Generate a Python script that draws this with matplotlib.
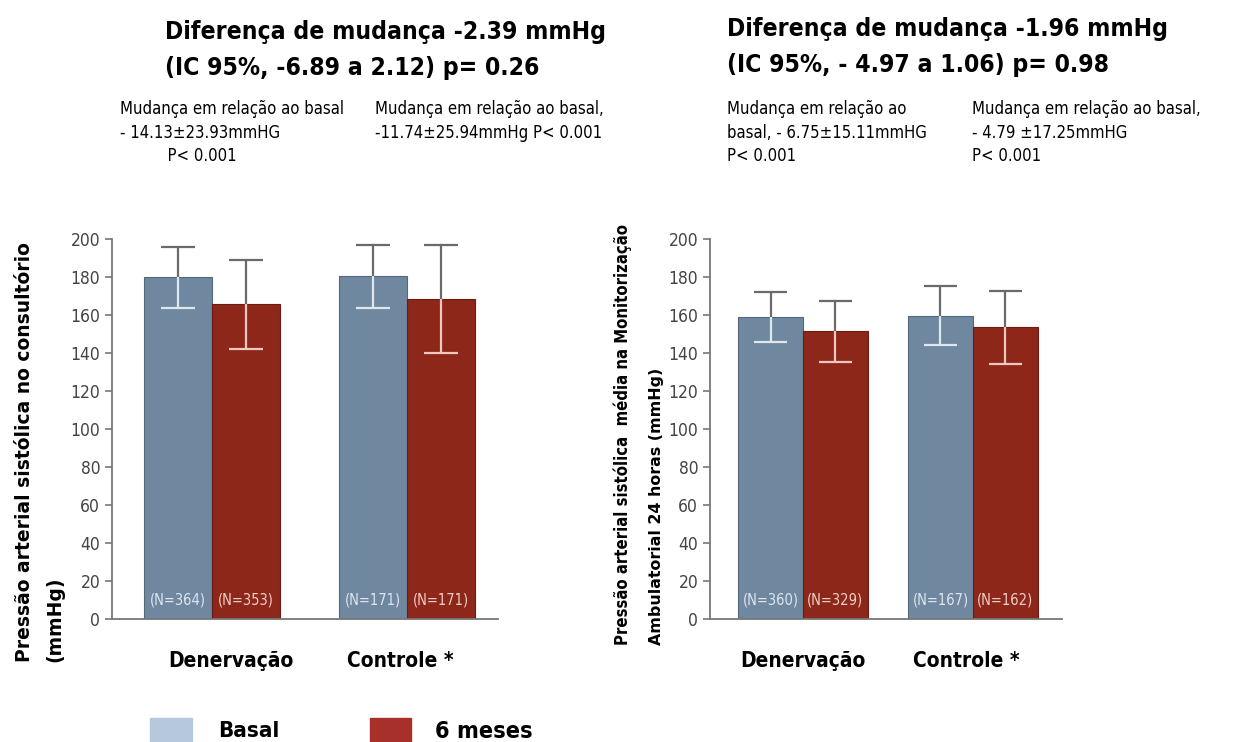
import matplotlib
matplotlib.use("Agg")
import matplotlib.pyplot as plt
from matplotlib.patches import Rectangle

groups = ["Denervação", "Controle *"]

# office systolic pressure (mmHg)
office_basal = [180.0, 180.5]
office_basal_hi = [195.8, 197.0]
office_basal_lo = [163.7, 163.7]
office_6m = [165.8, 168.4]
office_6m_hi = [189.0, 197.0]
office_6m_lo = [142.0, 140.0]
office_n_basal = ["(N=364)", "(N=171)"]
office_n_6m = ["(N=353)", "(N=171)"]

# 24h ambulatory systolic pressure (mmHg)
ambul_basal = [159.0, 159.7]
ambul_basal_hi = [172.0, 175.0]
ambul_basal_lo = [146.0, 144.0]
ambul_6m = [151.6, 153.7]
ambul_6m_hi = [167.4, 172.6]
ambul_6m_lo = [135.3, 134.0]
ambul_n_basal = ["(N=360)", "(N=167)"]
ambul_n_6m = ["(N=329)", "(N=162)"]

BLUE = "#6f879f"
RED = "#8c2719"
NARROW = ["Liberation Sans Narrow", "DejaVu Sans"]
COND = dict(family=NARROW, stretch="condensed")

fig = plt.figure(figsize=(12.33, 7.42), dpi=100)
W, H = 1233, 742


def px_axes(x0, x1, y_top, y_bot):
    return fig.add_axes([x0 / W, 1 - y_bot / H, (x1 - x0) / W, (y_bot - y_top) / H])


def whisker(ax, xs, lo, hi, half, color):
    ax.vlines(xs, lo, hi, color=color, lw=1.6, zorder=3)
    ax.hlines(hi, [x - half for x in xs], [x + half for x in xs], color=color, lw=1.6, zorder=3)


def draw_panel(ax, basal, b_hi, b_lo, six, s_hi, s_lo, n_b, n_s, width, xlim, label_x):
    xs = list(range(len(groups)))
    xb = [x - width / 2 for x in xs]
    xr = [x + width / 2 for x in xs]
    ax.bar(xb, basal, width, color=BLUE, edgecolor="#55687a", linewidth=0.8, zorder=2)
    ax.bar(xr, six, width, color=RED, edgecolor="#6e1c12", linewidth=0.8, zorder=2)
    half = width * 0.25
    # grey whisker above each bar, light whisker inside it
    whisker(ax, xb, basal, b_hi, half, "#6a6a6a")
    whisker(ax, xr, six, s_hi, half, "#6a6a6a")
    ax.vlines(xb, b_lo, basal, color="#dfe6ee", lw=1.6, zorder=3)
    ax.hlines(b_lo, [x - half for x in xb], [x + half for x in xb], color="#dfe6ee", lw=1.6, zorder=3)
    ax.vlines(xr, s_lo, six, color="#f0c8c0", lw=1.6, zorder=3)
    ax.hlines(s_lo, [x - half for x in xr], [x + half for x in xr], color="#f0c8c0", lw=1.6, zorder=3)
    for x, t in zip(xb, n_b):
        ax.text(x, 6, t, ha="center", va="bottom", color="#dde6f0", fontsize=10.5, zorder=4, **COND)
    for x, t in zip(xr, n_s):
        ax.text(x, 6, t, ha="center", va="bottom", color="#f3cdc6", fontsize=10.5, zorder=4, **COND)
    ax.set_xlim(*xlim)
    ax.set_ylim(0, 200)
    ax.set_yticks(range(0, 201, 20))
    ax.set_xticks([])
    for s in ("top", "right"):
        ax.spines[s].set_visible(False)
    for s in ("left", "bottom"):
        ax.spines[s].set_color("#777777")
        ax.spines[s].set_linewidth(1.3)
    ax.tick_params(axis="y", length=5, width=1.2, color="#777777", labelcolor="#444444", labelsize=12.5)
    for lab in ax.get_yticklabels():
        lab.set_family(NARROW)
        lab.set_stretch("condensed")
    for x, g in zip(label_x, groups):
        ax.text(x, -22, g, ha="center", va="center", fontsize=15, fontweight="bold",
                clip_on=False, **COND)


ax1 = px_axes(112, 498, 239, 619)
draw_panel(ax1, office_basal, office_basal_hi, office_basal_lo, office_6m, office_6m_hi, office_6m_lo,
           office_n_basal, office_n_6m, 0.349, (-0.513, 1.467), (0.097, 0.964))

ax2 = px_axes(710, 1062, 239, 619)
draw_panel(ax2, ambul_basal, ambul_basal_hi, ambul_basal_lo, ambul_6m, ambul_6m_hi, ambul_6m_lo,
           ambul_n_basal, ambul_n_6m, 0.382, (-0.547, 1.524), (0.0, 0.96))


def ftext(x, y, s, **kw):
    fig.text(x / W, 1 - y / H, s, **kw)


# headline statistics
ftext(165, 20, "Diferença de mudança -2.39 mmHg\n(IC 95%, -6.89 a 2.12) p= 0.26", ha="left", va="top",
      fontsize=17.7, fontweight="bold", linespacing=1.65, **COND)
ftext(727, 17, "Diferença de mudança -1.96 mmHg\n(IC 95%, - 4.97 a 1.06) p= 0.98", ha="left", va="top",
      fontsize=17.7, fontweight="bold", linespacing=1.65, **COND)

small = dict(ha="left", va="top", fontsize=12, linespacing=1.4, **COND)
ftext(120, 100, "Mudança em relação ao basal\n- 14.13±23.93mmHG\n          P< 0.001", **small)
ftext(375, 100, "Mudança em relação ao basal,\n-11.74±25.94mmHg P< 0.001", **small)
ftext(727, 100, "Mudança em relação ao\nbasal, - 6.75±15.11mmHG\nP< 0.001", **small)
ftext(972, 100, "Mudança em relação ao basal,\n- 4.79 ±17.25mmHG\nP< 0.001", **small)

# y-axis titles
ylab = dict(rotation=90, ha="center", va="bottom", fontweight="bold")
ftext(25, 662, "Pressão arterial sistólica no consultório", fontsize=13.5, **ylab)
ftext(55, 662, "(mmHg)", fontsize=13.5, **ylab)
ftext(623, 645, "Pressão arterial sistólica  média na Monitorização", fontsize=12, **ylab, **COND)
ftext(656, 645, "Ambulatorial 24 horas (mmHg)", fontsize=11.4, **ylab)

# legend
fig.patches.append(Rectangle((150 / W, 1 - 745 / H), 42 / W, 27 / H, transform=fig.transFigure,
                             color="#b6c8dc", zorder=1))
fig.patches.append(Rectangle((370 / W, 1 - 745 / H), 41 / W, 27 / H, transform=fig.transFigure,
                             color="#a8302a", zorder=1))
ftext(218, 731, "Basal", ha="left", va="center", fontsize=16, fontweight="bold", **COND)
ftext(435, 731, "6 meses", ha="left", va="center", fontsize=16.8, fontweight="bold", **COND)

fig.savefig("out.png", dpi=100)
